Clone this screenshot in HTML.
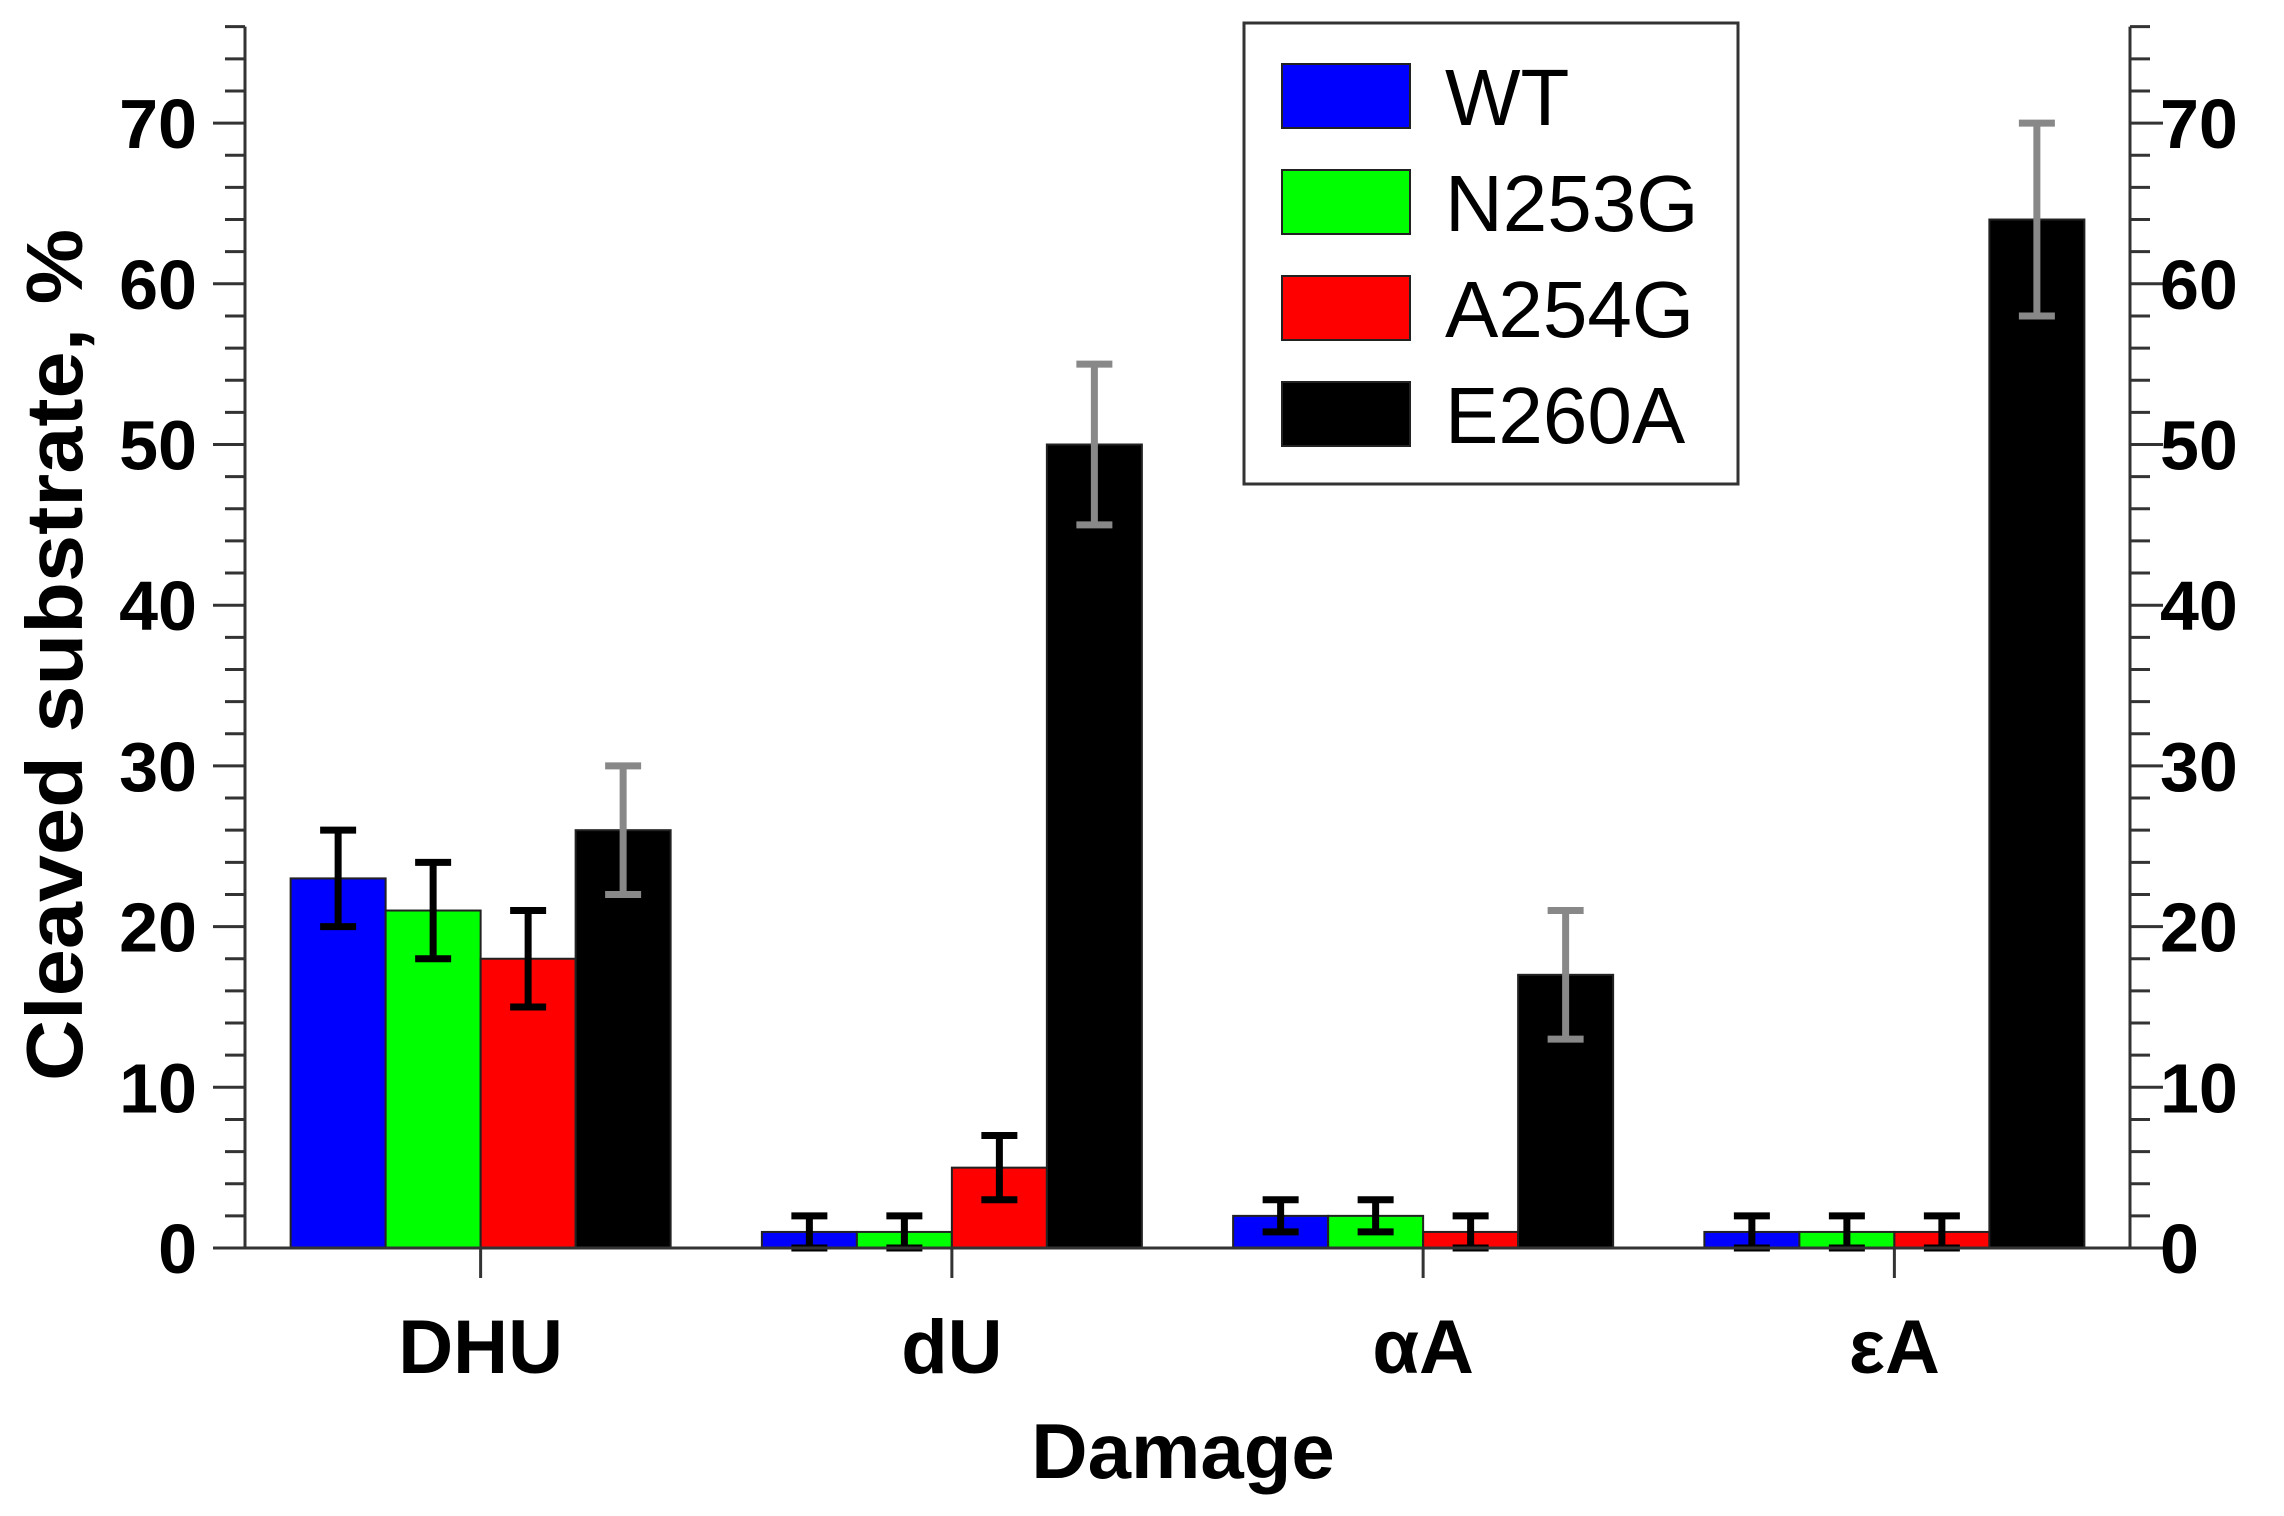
<!DOCTYPE html>
<html><head><meta charset="utf-8">
<style>html,body{margin:0;padding:0;background:#fff;}svg{display:block;font-family:"Liberation Sans",sans-serif;}</style>
</head><body>
<svg id="chart" width="2284" height="1516" viewBox="0 0 2284 1516" xmlns="http://www.w3.org/2000/svg"></svg>
<script>
const categories = ["DHU", "dU", "αA", "εA"];
const seriesNames = ["WT", "N253G", "A254G", "E260A"];
const seriesColors = ["#0000ff", "#00ff00", "#ff0000", "#000000"];
const errColors = ["#000", "#000", "#000", "#888"];
const valuesWT = [23, 1, 2, 1];
const valuesN253G = [21, 1, 2, 1];
const valuesA254G = [18, 5, 1, 1];
const valuesE260A = [26, 50, 17, 64];
const errWT = [3, 1, 1, 1];
const errN253G = [3, 1, 1, 1];
const errA254G = [3, 2, 1, 1];
const errE260A = [4, 5, 4, 6];
const yTickLabels = [0, 10, 20, 30, 40, 50, 60, 70];

const values = [valuesWT, valuesN253G, valuesA254G, valuesE260A];
const errs = [errWT, errN253G, errA254G, errE260A];
const svg = document.getElementById('chart');
const NS = 'http://www.w3.org/2000/svg';
const X0 = 245, X1 = 2130, Y0 = 1248, YMAX = 76, PXU = 16.07;
const band = (X1 - X0) / categories.length, barW = 95;
function y(v) { return Y0 - v * PXU; }
function xc(i) { return X0 + band * (i + 0.5); }
function mk(tag, attrs, parent) {
  const e = document.createElementNS(NS, tag);
  for (const k in attrs) e.setAttribute(k, attrs[k]);
  (parent || svg).appendChild(e);
  return e;
}
// bars
values.forEach((ser, s) => {
  const g = mk('g', {});
  
  
  ser.forEach((v, i) => {
    const bx = xc(i) - 2 * barW + s * barW;
    const r = mk('rect', {x: bx, y: y(v), width: barW, height: Y0 - y(v), fill: seriesColors[s], stroke: '#222', 'stroke-width': 2}, g);
    
    
  });
});
// error bars
values.forEach((ser, s) => {
  ser.forEach((v, i) => {
    const cx = xc(i) - 2 * barW + s * barW + barW / 2;
    const e = errs[s][i], c = errColors[s];
    const g = mk('g', {stroke: c, 'stroke-width': 7});
    
    
    mk('line', {x1: cx, x2: cx, y1: y(v - e), y2: y(v + e)}, g);
    mk('line', {x1: cx - 18, x2: cx + 18, y1: y(v - e), y2: y(v - e)}, g);
    mk('line', {x1: cx - 18, x2: cx + 18, y1: y(v + e), y2: y(v + e)}, g);
  });
});
// axes
const ax = mk('g', {stroke: '#333', 'stroke-width': 3});


mk('line', {x1: X0, x2: X0, y1: y(YMAX), y2: Y0}, ax);
mk('line', {x1: X1, x2: X1, y1: y(YMAX), y2: Y0}, ax);
mk('line', {x1: X0 - 32, x2: X1 + 33, y1: Y0, y2: Y0}, ax);
for (let v = 0; v <= YMAX; v += 2) {
  const major = v % 10 === 0;
  mk('line', {x1: X0 - (major ? 32 : 20), x2: X0, y1: y(v), y2: y(v)}, ax);
  mk('line', {x1: X1, x2: X1 + (major ? 33 : 20), y1: y(v), y2: y(v)}, ax);
}
categories.forEach((c, i) => {
  mk('line', {x1: xc(i), x2: xc(i), y1: Y0, y2: Y0 + 30}, ax);
  const t = mk('text', {x: xc(i), y: 1373, 'text-anchor': 'middle', 'font-size': 76, 'font-weight': 'bold', fill: '#000'});
  t.textContent = c;
  
  
});
yTickLabels.forEach(v => {
  const t = mk('text', {x: 197, y: y(v) + 25, 'text-anchor': 'end', 'font-size': 70, 'font-weight': 'bold', fill: '#000'});
  t.textContent = v;
  
  
  const t2 = mk('text', {x: 2160, y: y(v) + 25, 'text-anchor': 'start', 'font-size': 70, 'font-weight': 'bold', fill: '#000'});
  t2.textContent = v;
  
  
});
// titles
const xt = mk('text', {x: 1183, y: 1478, 'text-anchor': 'middle', 'font-size': 78, 'font-weight': 'bold', fill: '#000'});
xt.textContent = 'Damage';


const yt = mk('text', {x: 0, y: 0, 'text-anchor': 'middle', 'font-size': 80, 'font-weight': 'bold', fill: '#000', transform: 'translate(82,655) rotate(-90)', textLength: 852, lengthAdjust: 'spacingAndGlyphs'});
yt.textContent = 'Cleaved substrate, %';


// legend
const lg = mk('g', {});


mk('rect', {x: 1244, y: 23, width: 494, height: 461, fill: '#fff', stroke: '#333', 'stroke-width': 3}, lg);
seriesNames.forEach((n, s) => {
  const cy = 96 + s * 106;
  const e = mk('g', {}, lg);
  
  
  mk('rect', {x: 1282, y: cy - 32, width: 128, height: 64, fill: seriesColors[s], stroke: '#222', 'stroke-width': 2}, e);
  const t = mk('text', {x: 1445, y: cy + 29, 'font-size': 80, fill: '#000'}, e);
  t.textContent = n;
});
</script>
</body></html>
